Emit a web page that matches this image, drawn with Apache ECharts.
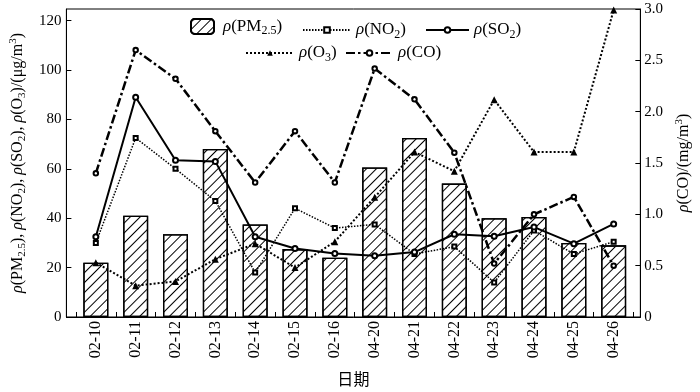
<!DOCTYPE html>
<html><head><meta charset="utf-8">
<script src="https://cdn.jsdelivr.net/npm/echarts@6/dist/echarts.min.js"></script>
<style>html,body{margin:0;padding:0;background:#fff}#c{width:700px;height:392px}</style>
</head><body><div id="c"></div>
<script>
const categories = ['02-10','02-11','02-12','02-13','02-14','02-15','02-16','04-20','04-21','04-22','04-23','04-24','04-25','04-26'];
const pm25 = [22, 41, 33.5, 68, 37.5, 27.5, 24, 60.5, 72.5, 54, 40, 40.5, 30, 29];
const no2  = [30, 72.5, 60, 47, 18, 44, 36, 37.5, 25.5, 28.5, 14, 35, 25.5, 30.5];
const so2  = [32.5, 89, 63.5, 63, 32.5, 27.7, 25.7, 24.8, 26.3, 33.5, 32.7, 36.4, 29.7, 37.7];
const o3   = [22, 12.7, 14.4, 23.4, 29.7, 20, 30.5, 48.5, 66.8, 59, 88, 66.8, 66.8, 124.3];
const co   = [1.40, 2.60, 2.32, 1.81, 1.31, 1.81, 1.31, 2.42, 2.12, 1.60, 0.52, 1.00, 1.17, 0.50];
const leftTicks = [0, 20, 40, 60, 80, 100, 120];
const rightTicks = [0, 0.5, 1.0, 1.5, 2.0, 2.5, 3.0];

const SERIF = 'Liberation Serif';
const idx = categories.map((c, i) => i);
const boundaries = [];
for (let i = 0; i <= categories.length; i++) boundaries.push(i - 0.5);
const pairs = arr => arr.map((v, i) => [i, v]);

const rich = {
  n: {fontFamily: SERIF, fontSize: 16, lineHeight: 20, color: '#000'},
  i: {fontFamily: SERIF, fontSize: 16, lineHeight: 20, fontStyle: 'italic', color: '#000'},
  s: {fontFamily: SERIF, fontSize: 11, lineHeight: 11, verticalAlign: 'bottom', color: '#000'},
  p: {fontFamily: SERIF, fontSize: 11, lineHeight: 11, verticalAlign: 'top', color: '#000'}
};
const legRich = {
  n: {fontFamily: SERIF, fontSize: 17, lineHeight: 21, color: '#000'},
  i: {fontFamily: SERIF, fontSize: 17, lineHeight: 21, fontStyle: 'italic', color: '#000'},
  s: {fontFamily: SERIF, fontSize: 12, lineHeight: 12, verticalAlign: 'bottom', color: '#000'}
};
const legendText = {
  'PM2.5': '{i|ρ}{n|(PM}{s|2.5}{n|)}',
  'NO2': '{i|ρ}{n|(NO}{s|2}{n|)}',
  'SO2': '{i|ρ}{n|(SO}{s|2}{n|)}',
  'O3': '{i|ρ}{n|(O}{s|3}{n|)}',
  'CO': '{i|ρ}{n|(CO)}'
};
function leg(name, left, top, w, h, pad) {
  return {
    data: [name], left: left, top: top, itemWidth: w, itemHeight: h, padding: 0,
    selectedMode: false, orient: 'horizontal',
    formatter: n => legendText[n],
    textStyle: {rich: legRich, padding: [0, 0, 0, pad]}
  };
}

const chart = echarts.init(document.getElementById('c'), null, {renderer: 'canvas'});
chart.setOption({
  animation: false,
  backgroundColor: '#fff',
  grid: {left: 62, right: 53, top: 9, bottom: 72, show: true, borderColor: '#000', borderWidth: 1, backgroundColor: 'transparent'},
  legend: [
    leg('PM2.5', 190, 18, 23, 15, 4),
    leg('NO2', 302, 21.5, 48, 7, 0),
    leg('SO2', 425, 21.5, 43, 7, 0),
    leg('O3', 245, 44.5, 48, 7, 0),
    leg('CO', 345, 44.5, 47, 7, 0)
  ],
  xAxis: {
    type: 'value', min: -0.739, max: 13.67,
    name: '日期', nameLocation: 'middle', nameGap: 54,
    nameTextStyle: {fontFamily: 'Noto Sans CJK SC', fontSize: 16, color: '#000'},
    axisLine: {show: true, onZero: false, lineStyle: {color: '#000', width: 1}},
    axisTick: {show: true, inside: true, length: 5, customValues: boundaries, lineStyle: {color: '#000'}},
    axisLabel: {customValues: idx, rotate: 90, margin: 4, fontFamily: SERIF, fontSize: 16, color: '#000',
      formatter: v => categories[Math.round(v)] || ''},
    splitLine: {show: false}
  },
  yAxis: [
    {
      type: 'value', position: 'left', min: 0, max: 124.7, interval: 20,
      name: '{i|ρ}{n|(PM}{s|2.5}{n|), }{i|ρ}{n|(NO}{s|2}{n|), }{i|ρ}{n|(SO}{s|2}{n|), }{i|ρ}{n|(O}{s|3}{n|)/(μg/m}{p|3}{n|)}',
      nameLocation: 'middle', nameRotate: 90, nameGap: 38,
      nameTextStyle: {rich: rich},
      axisLine: {show: true, onZero: false, lineStyle: {color: '#000', width: 1}},
      axisTick: {show: true, inside: true, length: 5, customValues: leftTicks, lineStyle: {color: '#000'}},
      axisLabel: {customValues: leftTicks, margin: 5, fontFamily: SERIF, fontSize: 15, color: '#000'},
      splitLine: {show: false}
    },
    {
      type: 'value', position: 'right', min: 0, max: 3, interval: 0.5,
      name: '{i|ρ}{n|(CO)/(mg/m}{p|3}{n|)}',
      nameLocation: 'middle', nameRotate: 90, nameGap: 30,
      nameTextStyle: {rich: rich},
      axisLine: {show: true, onZero: false, lineStyle: {color: '#000', width: 1}},
      axisTick: {show: true, inside: true, length: 5, customValues: rightTicks, lineStyle: {color: '#000'}},
      axisLabel: {customValues: rightTicks, margin: 4, fontFamily: SERIF, fontSize: 15, color: '#000',
        formatter: v => v === 0 ? '0' : v.toFixed(1)},
      splitLine: {show: false}
    }
  ],
  series: [
    {
      name: 'PM2.5', type: 'bar', yAxisIndex: 0, barWidth: 25, z: 1,
      data: pairs(pm25),
      itemStyle: {color: '#fff', borderColor: '#000', borderWidth: 1.3,
        decal: {symbol: 'rect', symbolSize: 1, color: '#000', dashArrayX: [1, 0], dashArrayY: [1, 5.2], rotation: -Math.PI / 4}}
    },
    {
      name: 'NO2', type: 'line', yAxisIndex: 0, z: 3, data: pairs(no2),
      symbol: 'emptyRect', symbolSize: 4,
      lineStyle: {color: '#000', width: 1.5, type: [1.5, 1.5]},
      itemStyle: {color: '#000', borderWidth: 1}
    },
    {
      name: 'SO2', type: 'line', yAxisIndex: 0, z: 4, data: pairs(so2),
      symbol: 'emptyCircle', symbolSize: 5,
      lineStyle: {color: '#000', width: 2, type: 'solid'},
      itemStyle: {color: '#000', borderWidth: 1.2}
    },
    {
      name: 'O3', type: 'line', yAxisIndex: 0, z: 3, data: pairs(o3),
      symbol: 'triangle', symbolSize: 7,
      lineStyle: {color: '#000', width: 2, type: [2, 2]},
      itemStyle: {color: '#000'}
    },
    {
      name: 'CO', type: 'line', yAxisIndex: 1, z: 3, data: pairs(co),
      symbol: 'emptyCircle', symbolSize: 4.5,
      lineStyle: {color: '#000', width: 2.5, type: [9, 3, 2.5, 3]},
      itemStyle: {color: '#000', borderWidth: 1.2}
    }
  ]
});
</script>
</body></html>
